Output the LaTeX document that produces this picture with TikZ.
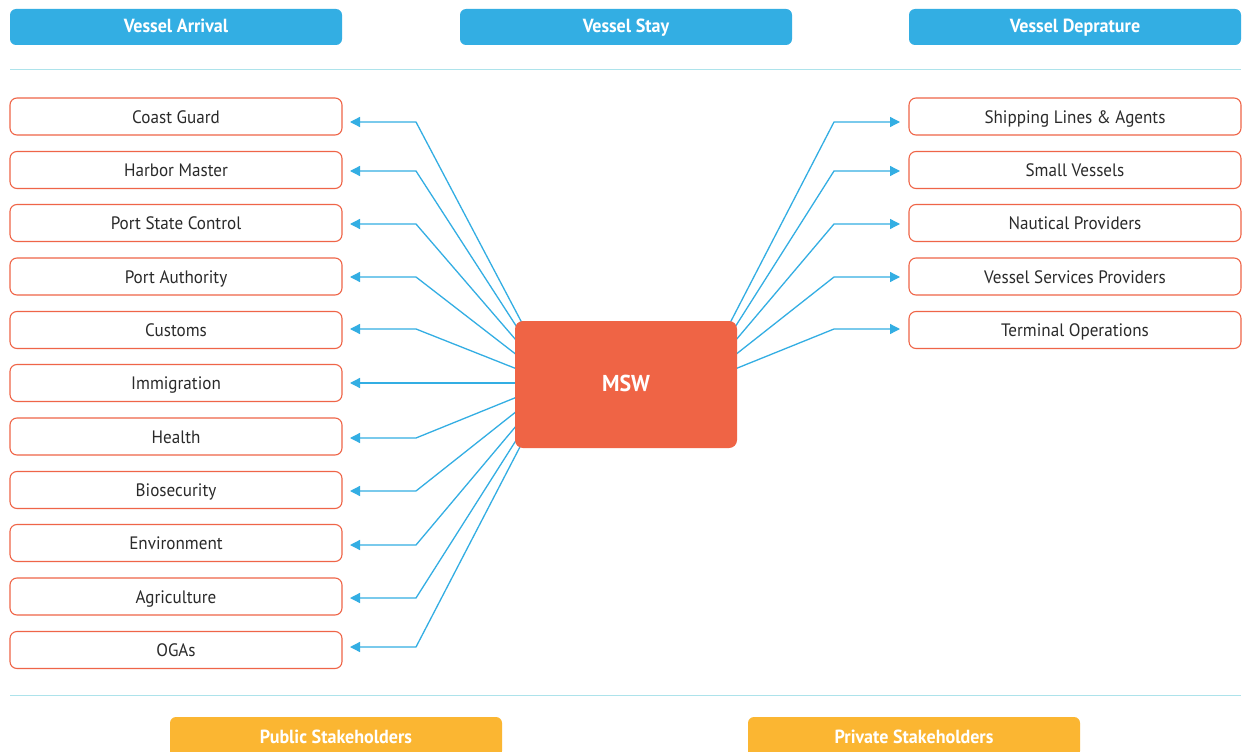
\documentclass[tikz,border=0pt]{standalone}
\usepackage{fontspec}
\setmainfont{PT Sans}[FakeStretch=0.95]
\usetikzlibrary{arrows.meta}
\definecolor{hdrblue}{HTML}{33AEE3}
\definecolor{hdryel}{HTML}{FBB632}
\definecolor{boxred}{HTML}{EF6548}
\definecolor{mswred}{HTML}{EF6445}
\definecolor{sepline}{HTML}{ADE3EB}
\definecolor{linkblue}{HTML}{33AEE3}
\definecolor{txt}{HTML}{2A2A2A}
\tikzset{
  header/.style={fill=#1, draw=none, rounded corners=6pt, minimum width=332pt, minimum height=36pt,
     text=white, font=\fontsize{19}{21}\selectfont\bfseries, inner sep=0pt, text height=12pt, text depth=0pt},
  stakebox/.style={draw=boxred, line width=1.1pt, fill=white, rounded corners=7pt, minimum width=332pt,
     minimum height=37pt, text=txt, font=\fontsize{18}{20}\selectfont, inner sep=0pt, text height=13pt, text depth=0pt},
  mswbox/.style={fill=mswred, rounded corners=8pt, minimum width=222pt, minimum height=127pt,
     text=white, font=\fontsize{23}{26}\selectfont\bfseries, inner sep=0pt, text height=13pt, text depth=0pt},
  link/.style={draw=linkblue, line width=1.3pt, -{Triangle[length=10pt,width=10pt]}},
  sep/.style={draw=sepline, line width=1pt}
}
\begin{document}
\begin{tikzpicture}[x=1pt,y=-1pt]
\clip (0,0) rectangle (1245,752);
\fill[white] (0,0) rectangle (1245,752);
% headers
\node[header=hdrblue] (harr) at (176,27) {Vessel Arrival};
\node[header=hdrblue] (hstay) at (626,27) {Vessel Stay};
\node[header=hdrblue] (hdep) at (1075,27) {Vessel Deprature};
% separators
\coordinate (s1a) at (10,70); \coordinate (s1b) at (1241,70);
\coordinate (s2a) at (10,695); \coordinate (s2b) at (1241,695);
\draw[sep] (s1a) -- (s1b);
\draw[sep] (s2a) -- (s2b);
% footers
\node[header=hdryel, minimum height=40pt] (fpub) at (336,737) {Public Stakeholders};
\node[header=hdryel, minimum height=40pt] (fpriv) at (914,737) {Private Stakeholders};
% left boxes
\foreach \n/\t/\y in {1/Coast Guard/116.5, 2/Harbor Master/170, 3/Port State Control/223, 4/Port Authority/276.5,
  5/Customs/330, 6/Immigration/383, 7/Health/436.5, 8/Biosecurity/490, 9/Environment/543, 10/Agriculture/596.5, 11/OGAs/650}{
  \node[stakebox] (L\n) at (176,\y) {\t};
}
% right boxes
\foreach \n/\t/\y in {1/Shipping Lines \& Agents/116.5, 2/Small Vessels/170, 3/Nautical Providers/223,
  4/Vessel Services Providers/276.5, 5/Terminal Operations/330}{
  \node[stakebox] (R\n) at (1075,\y) {\t};
}
% left links
\foreach \n/\ya/\yb in {1/323/122, 2/335/171, 3/347/224, 4/359/277, 5/371/329, 6/383/383,
  7/395/438, 8/407/491, 9/419/545, 10/431/598, 11/443/647}{
  \coordinate (ls\n) at (522,\ya);
  \coordinate (le\n) at (416,\yb);
  \coordinate (lt\n) at (350,\yb);
  \draw[link] (ls\n) -- (le\n) -- (lt\n);
}
% right links
\foreach \n/\ya/\yb in {1/323/122, 2/335/171, 3/347/224, 4/359/277, 5/371/329}{
  \coordinate (rs\n) at (730,\ya);
  \coordinate (re\n) at (834,\yb);
  \coordinate (rt\n) at (900,\yb);
  \draw[link] (rs\n) -- (re\n) -- (rt\n);
}
% MSW
\node[mswbox] (msw) at (626,384.5) {MSW};
\end{tikzpicture}
\end{document}
